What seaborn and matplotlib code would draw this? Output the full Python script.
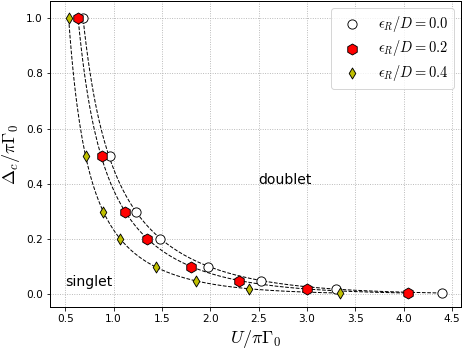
import numpy as np
import seaborn as sns
import matplotlib
matplotlib.use("Agg")
import matplotlib.pyplot as plt

# critical gap vs U
u_eps00 = [0.68, 0.965, 1.235, 1.48, 1.975, 2.52, 3.30, 4.40]
d_eps00 = [1.0, 0.5, 0.3, 0.2, 0.1, 0.05, 0.02, 0.005]
u_eps02 = [0.63, 0.88, 1.12, 1.345, 1.80, 2.30, 3.00, 4.05]
d_eps02 = [1.0, 0.5, 0.3, 0.2, 0.1, 0.05, 0.02, 0.005]
u_eps04 = [0.535, 0.71, 0.89, 1.07, 1.435, 1.85, 2.40, 3.345]
d_eps04 = [1.0, 0.5, 0.3, 0.2, 0.1, 0.05, 0.02, 0.005]

labels = [r"$\epsilon_R/D=0.0$", r"$\epsilon_R/D=0.2$", r"$\epsilon_R/D=0.4$"]

sns.set_style("ticks", {"axes.edgecolor": "black", "xtick.color": "black",
                        "ytick.color": "black", "text.color": "black",
                        "axes.labelcolor": "black"})
plt.rcParams["mathtext.fontset"] = "cm"
plt.rcParams["font.family"] = ["DejaVu Sans"]

fig, ax = plt.subplots(figsize=(463 / 72, 350 / 72), dpi=72)
fig.subplots_adjust(left=0.108, right=0.9957, top=0.997, bottom=0.123)

series = [(u_eps00, d_eps00, "white", "o", 85),
          (u_eps02, d_eps02, "red", "h", 120),
          (u_eps04, d_eps04, "y", "d", 60)]

for (u, d, c, m, sz), lab in zip(series, labels):
    u = np.array(u)
    d = np.array(d)
    # smooth guide line: cubic fit in log-log
    p = np.polyfit(np.log(u), np.log(d), 3)
    uu = np.linspace(u.min(), u.max(), 200)
    sns.lineplot(x=uu, y=np.exp(np.polyval(p, np.log(uu))), ax=ax,
                 color="black", linestyle="--", linewidth=1.0, zorder=2)
    sns.scatterplot(x=u, y=d, ax=ax, color=c, marker=m, s=sz,
                    edgecolor="black", linewidth=0.9, label=lab, zorder=3)

ax.grid(True, linestyle=":", color="#b0b0b0", linewidth=0.9)
ax.set_axisbelow(True)
ax.margins(0.05)
ax.set_xticks([0.5, 1.0, 1.5, 2.0, 2.5, 3.0, 3.5, 4.0, 4.5])
ax.set_yticks([0.0, 0.2, 0.4, 0.6, 0.8, 1.0])
ax.tick_params(labelsize=10.5)
for s in ax.spines.values():
    s.set_linewidth(1.0)

ax.set_xlabel(r"$U/\pi\Gamma_0$", fontsize=18)
ax.set_ylabel(r"$\Delta_c/\pi\Gamma_0$", fontsize=18)

ax.text(0.5, 0.03, "singlet", fontsize=14)
ax.text(2.5, 0.4, "doublet", fontsize=14)

ax.legend(loc="upper right", fontsize=14.5, labelspacing=0.3)

fig.savefig("out.png", dpi=72)
